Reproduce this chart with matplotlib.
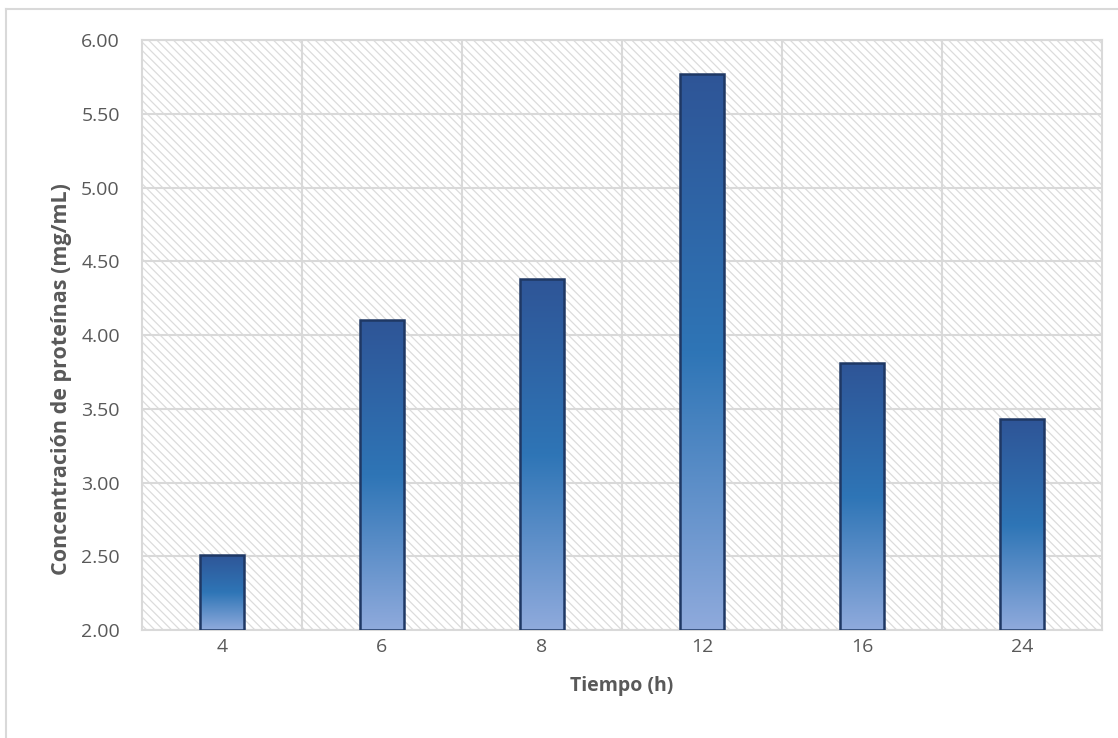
import matplotlib.pyplot as plt
import numpy as np
from matplotlib.colors import LinearSegmentedColormap
from matplotlib.lines import Line2D

tiempo = ['4', '6', '8', '12', '16', '24']
concentracion = [2.51, 4.10, 4.38, 5.77, 3.81, 3.43]

plt.rcParams['font.family'] = ['Open Sans', 'DejaVu Sans']
plt.rcParams['hatch.linewidth'] = 0.9
plt.rcParams['hatch.color'] = '#dcdcdc'

fig = plt.figure(figsize=(11.18, 7.38), dpi=100)
ax = fig.add_axes([0.127, 0.1463, 0.8587, 0.7995])

# hatched plot area background
ax.patch.set_facecolor('white')
ax.patch.set_hatch('\\\\\\\\')
ax.patch.set_edgecolor('#dcdcdc')

cmap = LinearSegmentedColormap.from_list(
    'azul', [(0.0, '#8faadc'), (0.5, '#2e75b6'), (1.0, '#2f5597')])
grad = np.linspace(0, 1, 256).reshape(-1, 1)

ymin = 2.0
x = np.arange(len(tiempo))
w = 0.28
bars = ax.bar(x, np.array(concentracion) - ymin, bottom=ymin, width=w,
              facecolor='none', edgecolor='#1f3864', linewidth=1.8, zorder=4)
for b, val in zip(bars, concentracion):
    x0 = b.get_x()
    im = ax.imshow(grad, cmap=cmap, origin='lower', aspect='auto',
                   extent=(x0, x0 + w, ymin, val), zorder=3)
    im.set_clip_path(b)

ax.set_xlim(-0.5, len(tiempo) - 0.5)
ax.set_ylim(2.0, 6.0)
ax.set_yticks(np.arange(2.0, 6.01, 0.5))
ax.set_yticklabels([f'{v:.2f}' for v in np.arange(2.0, 6.01, 0.5)])
ax.set_xticks(x)
ax.set_xticklabels(tiempo)

# vertical lines between categories, horizontal at every tick
for xv in np.arange(0.5, len(tiempo) - 0.5, 1):
    ax.axvline(xv, color='#d9d9d9', lw=1.5, zorder=1)
ax.yaxis.grid(True, color='#d9d9d9', lw=1.5, zorder=1)
ax.set_axisbelow(True)

for s in ax.spines.values():
    s.set_color('#d9d9d9')
    s.set_linewidth(1.5)

ax.tick_params(length=0, labelsize=14, colors='#595959')
ax.tick_params(axis='y', pad=16)
ax.tick_params(axis='x', pad=6)
ax.set_xlabel('Tiempo (h)', fontsize=14, fontweight='bold', color='#595959',
              labelpad=14)
ax.set_ylabel('Concentración de proteínas (mg/mL)', fontsize=15.5,
              fontweight='bold', color='#595959')
ax.yaxis.set_label_coords(-0.073, 0.425)

# chart frame lines
fig.add_artist(Line2D([0.0058, 0.0058], [0.0, 0.988], color='#d9d9d9', lw=1.5))
fig.add_artist(Line2D([0.0058, 1.0], [0.988, 0.988], color='#d9d9d9', lw=1.5))

fig.savefig('out.png', dpi=100)
